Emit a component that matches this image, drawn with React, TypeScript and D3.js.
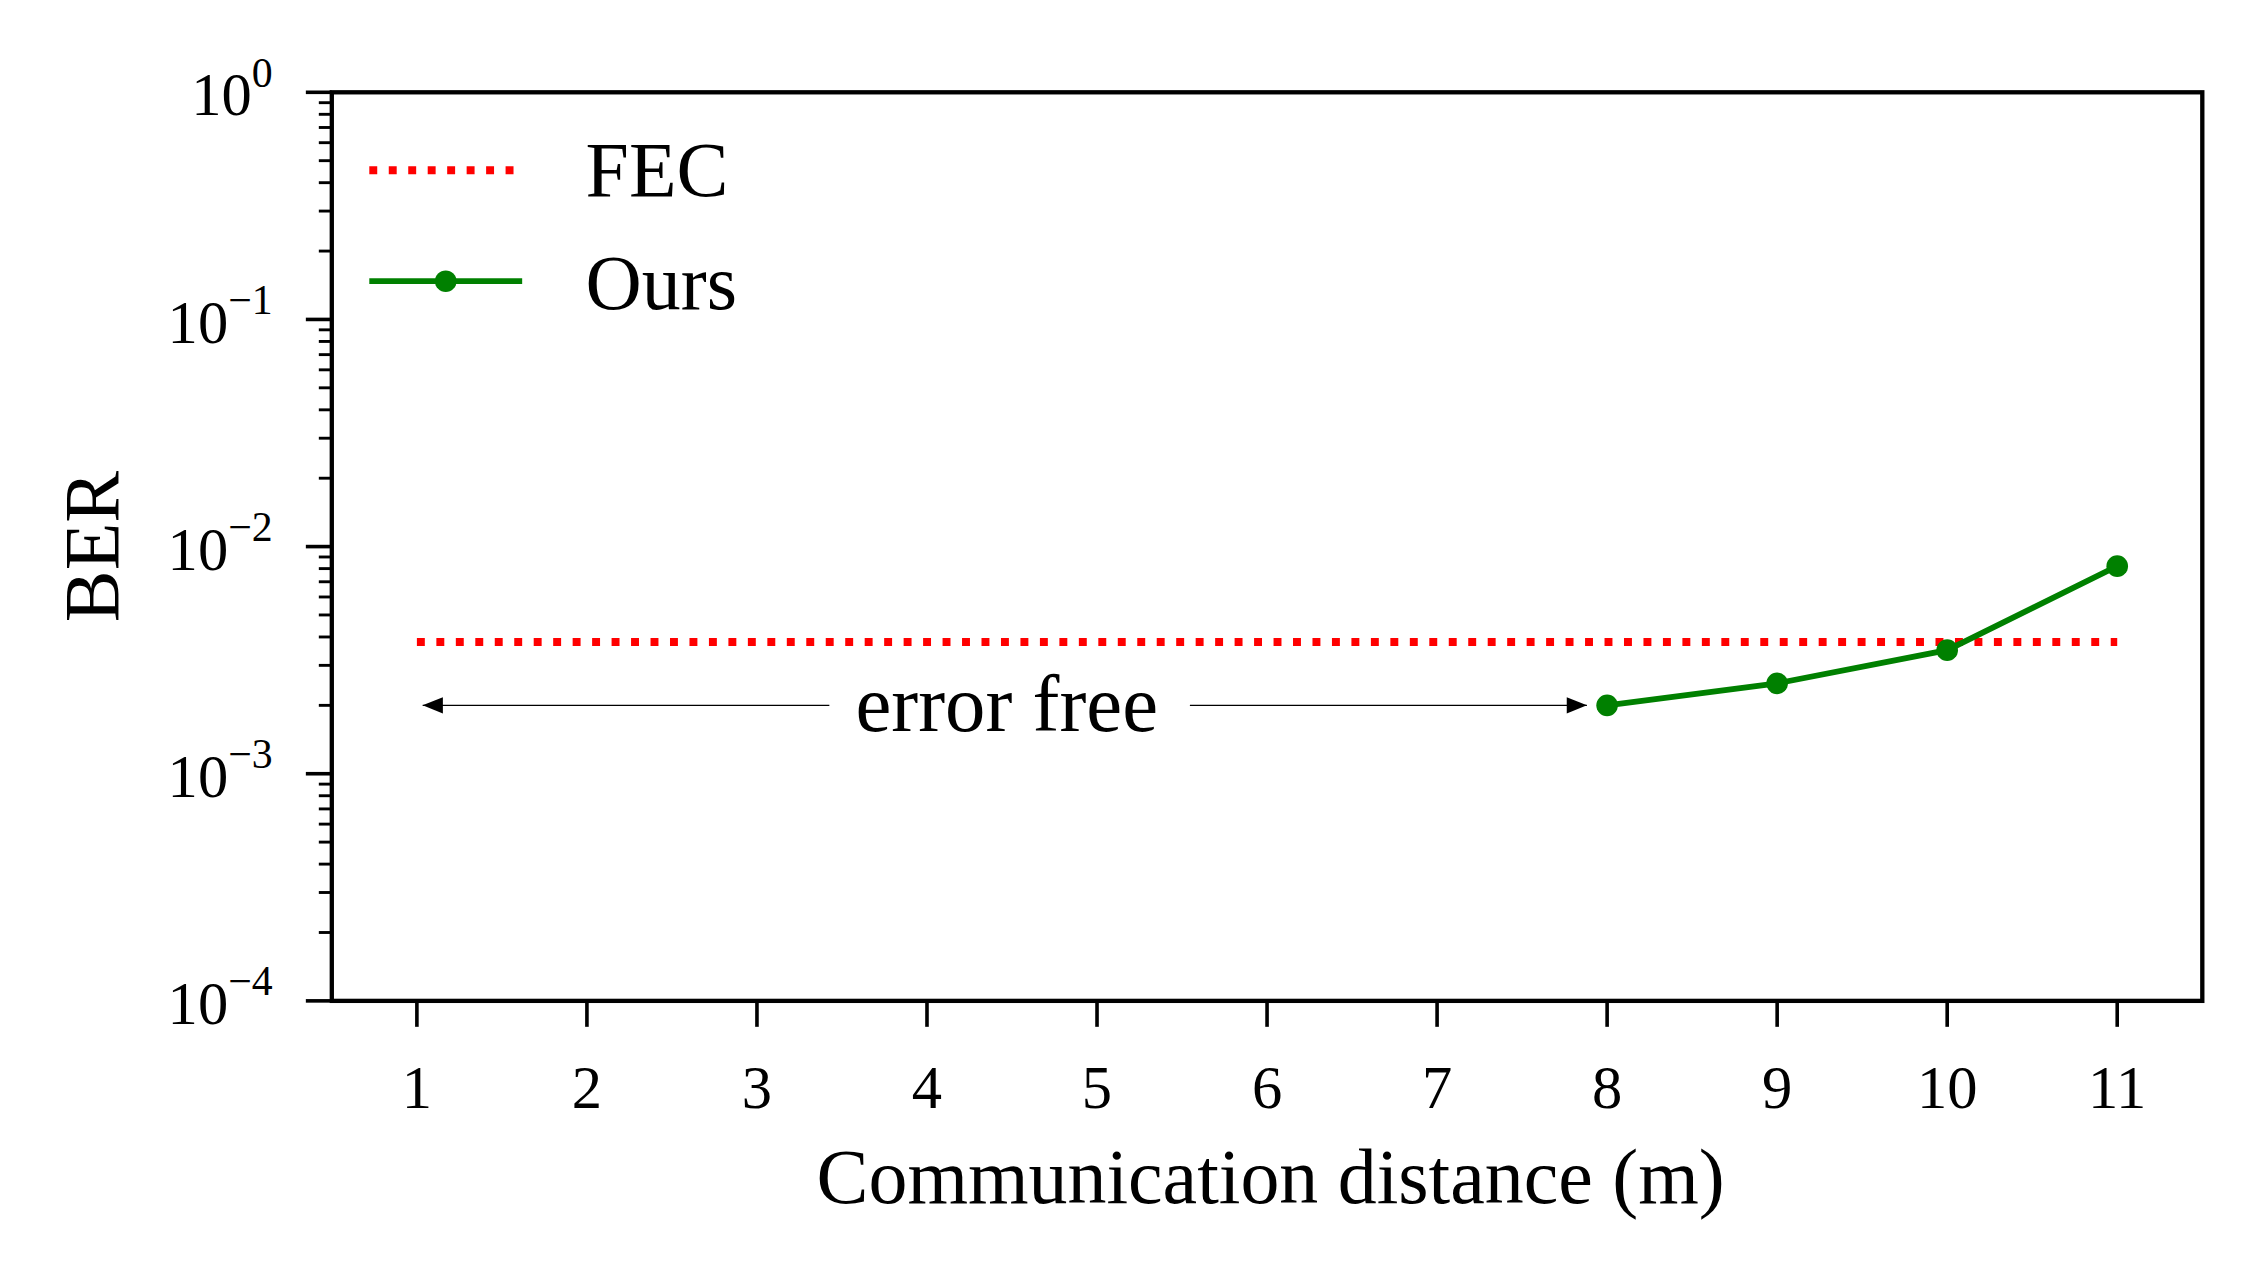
import { useEffect, useRef } from 'react';
import * as d3 from 'd3';

const distances = [1, 2, 3, 4, 5, 6, 7, 8, 9, 10, 11];
const oursX = [8, 9, 10, 11];
const oursBER = [2.0e-3, 2.5e-3, 3.5e-3, 8.2e-3];
const fecLevel = 3.8e-3;
const decades = [-4, -3, -2, -1, 0];

export default function App() {
  const ref = useRef<SVGSVGElement>(null);

  useEffect(() => {
    if (!ref.current) return;
    const svg = d3.select(ref.current);
    svg.selectAll('*').remove();
    const font = '"Liberation Serif", "DejaVu Serif", serif';
    const L = 230, R = 1527, T = 64, B = 694;

    const x = d3.scaleLinear().domain([1, 11]).range([289, 1468]);
    const y = d3.scaleLog().domain([1e-4, 1]).range([B, T]);

    // minor ticks
    const minors: number[] = [];
    for (const d of decades.slice(0, -1))
      for (let k = 2; k <= 9; k++) minors.push(k * Math.pow(10, d));
    svg.append('g').selectAll('line').data(minors).join('line')
      .attr('x1', L - 9).attr('x2', L).attr('y1', d => y(d)).attr('y2', d => y(d))
      .attr('stroke', '#000').attr('stroke-width', 2);
    svg.append('g').selectAll('line').data(decades).join('line')
      .attr('x1', L - 18).attr('x2', L).attr('y1', d => y(Math.pow(10, d))).attr('y2', d => y(Math.pow(10, d)))
      .attr('stroke', '#000').attr('stroke-width', 2.5);
    const yl = svg.append('g').selectAll('text').data(decades).join('text')
      .attr('x', 189).attr('y', d => y(Math.pow(10, d)) + 16)
      .attr('text-anchor', 'end').attr('font-family', font).attr('font-size', 42);
    yl.append('tspan').text('10');
    yl.append('tspan').attr('dy', -20).attr('font-size', 29).text(d => (d < 0 ? '\u2212' + -d : String(d)));

    // x ticks
    svg.append('g').selectAll('line').data(distances).join('line')
      .attr('x1', d => x(d)).attr('x2', d => x(d)).attr('y1', B).attr('y2', B + 18)
      .attr('stroke', '#000').attr('stroke-width', 2.5);
    svg.append('g').selectAll('text').data(distances).join('text')
      .attr('x', d => x(d)).attr('y', 768).attr('text-anchor', 'middle')
      .attr('font-family', font).attr('font-size', 42).text(d => d);

    // FEC
    svg.append('line').attr('x1', x(1)).attr('x2', x(11)).attr('y1', y(fecLevel)).attr('y2', y(fecLevel))
      .attr('stroke', '#ff0000').attr('stroke-width', 5.5).attr('stroke-dasharray', '5.5,8');

    // Ours
    const pts = oursX.map((v, i) => [v, oursBER[i]] as [number, number]);
    svg.append('path').datum(pts)
      .attr('d', d3.line<[number, number]>().x(d => x(d[0])).y(d => y(d[1])))
      .attr('fill', 'none').attr('stroke', '#008000').attr('stroke-width', 4);
    svg.append('g').selectAll('circle').data(pts).join('circle')
      .attr('cx', d => x(d[0])).attr('cy', d => y(d[1])).attr('r', 7.5).attr('fill', '#008000');

    // annotation
    const defs = svg.append('defs');
    defs.append('marker').attr('id', 'ah').attr('viewBox', '0 0 10 10').attr('refX', 10).attr('refY', 5)
      .attr('markerWidth', 36).attr('markerHeight', 14).attr('markerUnits', 'userSpaceOnUse').attr('orient', 'auto')
      .append('path').attr('d', 'M0,1 L10,5 L0,9 Z').attr('fill', '#000');
    const ay = y(oursBER[0]);
    svg.append('line').attr('x1', 575).attr('x2', 293).attr('y1', ay).attr('y2', ay)
      .attr('stroke', '#000').attr('stroke-width', 1).attr('marker-end', 'url(#ah)');
    svg.append('line').attr('x1', 825).attr('x2', x(8) - 14).attr('y1', ay).attr('y2', ay)
      .attr('stroke', '#000').attr('stroke-width', 1).attr('marker-end', 'url(#ah)');
    svg.append('text').attr('x', 698).attr('y', ay + 18).attr('text-anchor', 'middle')
      .attr('font-family', font).attr('font-size', 56).text('error free');

    // frame
    svg.append('rect').attr('x', L).attr('y', T).attr('width', R - L).attr('height', B - T)
      .attr('fill', 'none').attr('stroke', '#000').attr('stroke-width', 3);

    // legend
    svg.append('line').attr('x1', 256).attr('x2', 362).attr('y1', 118).attr('y2', 118)
      .attr('stroke', '#ff0000').attr('stroke-width', 5.5).attr('stroke-dasharray', '5.5,8');
    svg.append('line').attr('x1', 256).attr('x2', 362).attr('y1', 195).attr('y2', 195)
      .attr('stroke', '#008000').attr('stroke-width', 4);
    svg.append('circle').attr('cx', 309).attr('cy', 195).attr('r', 7.5).attr('fill', '#008000');
    svg.append('text').attr('x', 406).attr('y', 136).attr('font-family', font).attr('font-size', 54).text('FEC');
    svg.append('text').attr('x', 406).attr('y', 214).attr('font-family', font).attr('font-size', 54).text('Ours');

    // axis labels
    svg.append('text').attr('x', 881).attr('y', 834).attr('text-anchor', 'middle')
      .attr('font-family', font).attr('font-size', 54).text('Communication distance (m)');
    svg.append('text').attr('transform', 'translate(82,379) rotate(-90)').attr('text-anchor', 'middle')
      .attr('font-family', font).attr('font-size', 54).text('BER');
  }, []);

  return (
    <svg ref={ref} width={2250} height={1272} viewBox="0 0 1560 882"
      style={{ position: 'absolute', left: 0, top: 0, background: '#fff' }} />
  );
}
